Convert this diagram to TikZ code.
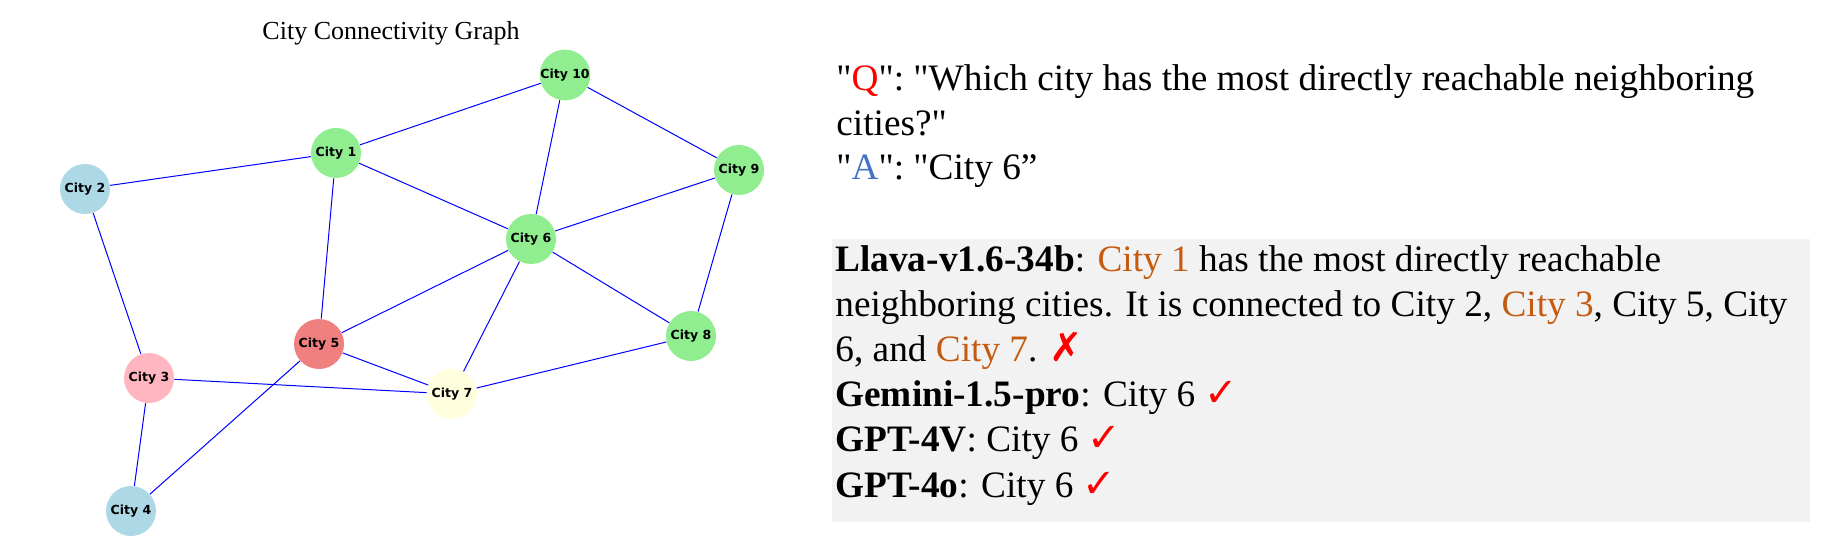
\documentclass[tikz,border=0pt]{standalone}
\usepackage{fontspec}
\setmainfont{Liberation Serif}
\newfontfamily\labelfont{DejaVu Sans}
\newfontfamily\symbolfont{DejaVu Sans}

\definecolor{lgreen}{HTML}{90EE90}
\definecolor{lblue}{HTML}{ADD8E6}
\definecolor{lpink}{HTML}{FFB6C1}
\definecolor{lcoral}{HTML}{F08080}
\definecolor{lyellow}{HTML}{FFFFE0}
\definecolor{ansblue}{HTML}{4472C4}
\definecolor{wrongcity}{HTML}{C55A11}
\definecolor{boxgray}{HTML}{F2F2F2}

\newcommand{\okmark}{{\color{red}\symbolfont\fontsize{20}{20}\selectfont ✓}}
\newcommand{\badmark}{{\color{red}\symbolfont\fontsize{20}{20}\selectfont ✗}}
\newcommand{\dq}{\textquotedbl}

\begin{document}
\begin{tikzpicture}[x=0.5pt,y=-0.5pt,
    city/.style={circle, inner sep=0pt, minimum size=25pt, font=\labelfont\bfseries\fontsize{6.25}{7}\selectfont},
    road/.style={draw=blue, line width=0.5pt}]

    \useasboundingbox (0,0) rectangle (1829,550);

    \node[anchor=base, font=\fontsize{13}{15}\selectfont] at (391,40) (title) {City Connectivity Graph};

    % cities: number/x/y/colour
    \foreach \n/\x/\y/\c in {1/336/153/lgreen, 2/85/189/lblue, 3/149/378/lpink, 4/131/511/lblue,
        5/319/344/lcoral, 6/531/239/lgreen, 7/452/394/lyellow, 8/691/336/lgreen,
        9/739/170/lgreen, 10/565/75/lgreen}
    {
        \node[city, fill=\c] at (\x,\y) (C\n) {City \n};
    }

    \foreach \a/\b in {10/1, 10/6, 10/9, 1/2, 1/5, 1/6, 2/3, 6/9, 6/5, 6/7, 6/8, 9/8, 5/7, 5/4, 3/7, 3/4, 7/8}
    {
        \draw[road] (C\a) -- (C\b);
    }

    % base of a multi-line node is its last line
    \node[anchor=base west, align=left, inner sep=0pt, font=\fontsize{18.65}{22.25}\selectfont] at (836,180) (question)
    {\dq{\color{red}Q}\dq: \dq Which city has the most directly reachable neighboring\\
     cities?\dq\\
     \dq{\color{ansblue}A}\dq: \dq City 6”};

    \fill[boxgray] (832,239) rectangle (1810,522);
    \node[anchor=base west, align=left, inner sep=0pt, font=\fontsize{18.65}{22.6}\selectfont] at (835,497) (answers)
    {\textbf{Llava-v1.6-34b}: {\color{wrongcity}City 1} has the most directly reachable\\
     neighboring cities. It is connected to City 2, {\color{wrongcity}City 3}, City 5, City\\
     6, and {\color{wrongcity}City 7}. \badmark\\
     \textbf{Gemini-1.5-pro}: City 6 \okmark\\
     \textbf{GPT-4V}: City 6 \okmark\\
     \textbf{GPT-4o}: City 6 \okmark};

\end{tikzpicture}
\end{document}
